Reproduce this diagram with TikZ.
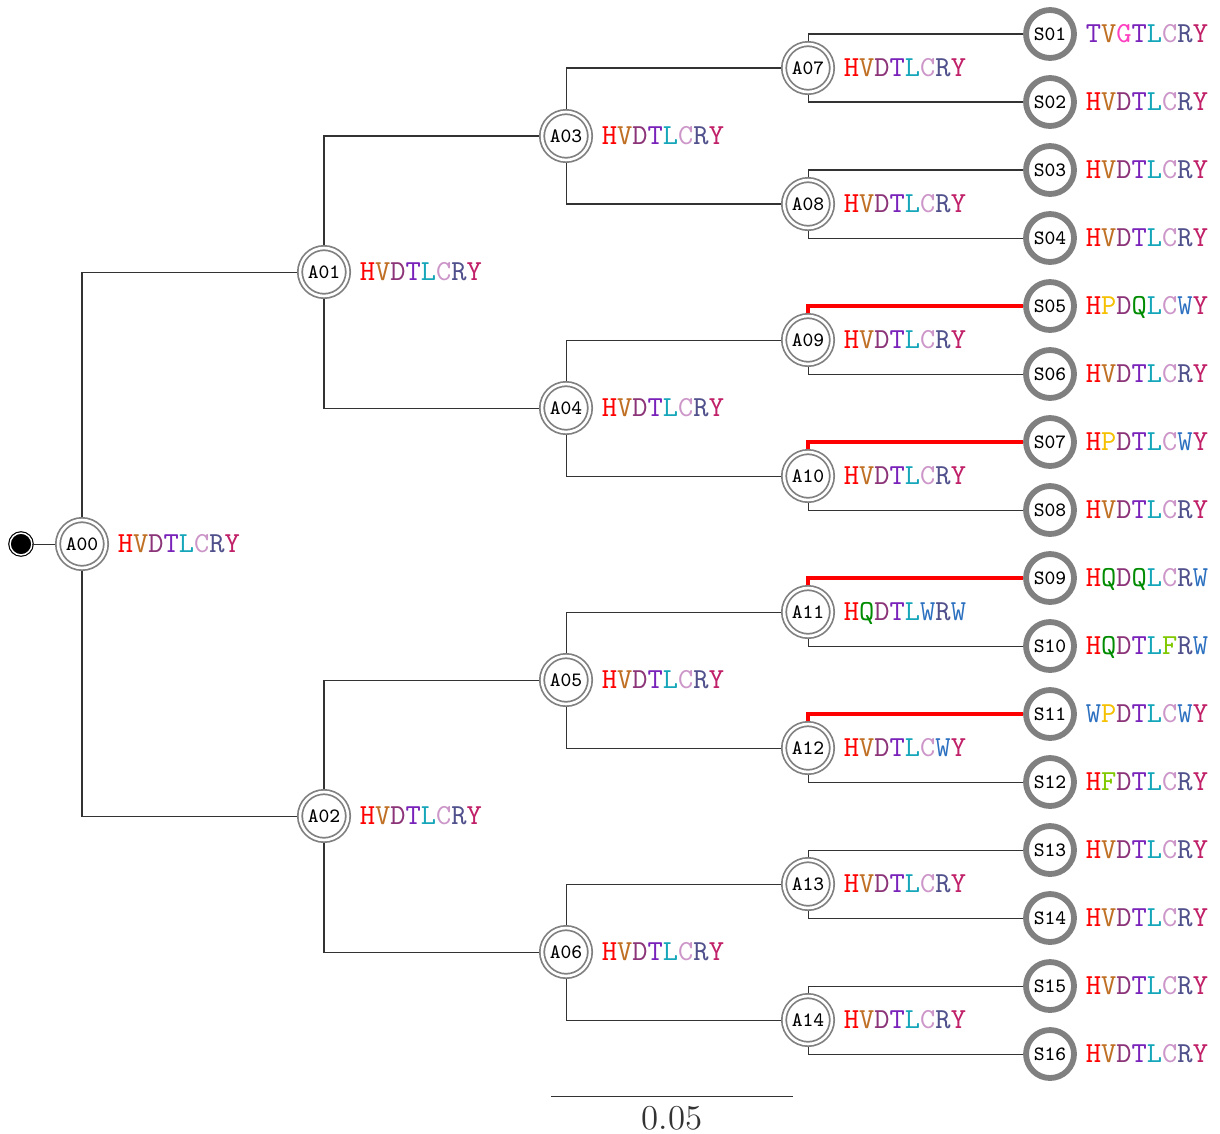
\documentclass[tikz,border=0pt]{standalone}
\usetikzlibrary{positioning}

% residue colours
\definecolor{aaH}{RGB}{255,0,0}
\definecolor{aaV}{RGB}{192,112,36}
\definecolor{aaD}{RGB}{140,52,120}
\definecolor{aaT}{RGB}{120,34,186}
\definecolor{aaL}{RGB}{22,166,186}
\definecolor{aaC}{RGB}{204,150,200}
\definecolor{aaR}{RGB}{80,80,140}
\definecolor{aaY}{RGB}{192,32,104}
\definecolor{aaG}{RGB}{255,64,192}
\definecolor{aaP}{RGB}{245,192,0}
\definecolor{aaQ}{RGB}{0,140,0}
\definecolor{aaW}{RGB}{44,112,192}
\definecolor{aaF}{RGB}{128,200,0}

% colour a sequence letter by letter
\def\colseq#1{\ifx#1\relax\else\textcolor{aa#1}{#1}\expandafter\colseq\fi}
\newcommand{\seqtxt}[1]{\edef\seqtmp{#1}\expandafter\colseq\seqtmp\relax}

\tikzset{
	rootdot/.style={circle,draw=black,double=white,double distance=0.5pt,line width=0.4pt,fill=black,minimum size=7.5pt,inner sep=0pt},
	anc/.style={circle,draw=gray,double=white,double distance=0.9pt,line width=0.6pt,fill=white,minimum size=16.5pt,inner sep=0pt,outer sep=1pt,font=\scriptsize\ttfamily},
	leaf/.style={circle,draw=gray,line width=2pt,fill=white,minimum size=16.5pt,inner sep=0pt,outer sep=1pt,font=\scriptsize\ttfamily},
	seq/.style={inner sep=0pt,font=\ttfamily,text height=6.1pt,text depth=0pt},
	br/.style={line width=0.35pt,black!80},
	mut/.style={line width=1.4pt,red},
}

\begin{document}
\begin{tikzpicture}[x=0.344pt,y=-0.344pt]
		\useasboundingbox (0,0) rectangle (1220,1133);
		
		% root and ancestral states
		\node[rootdot] (R) at (21,544) {};
		\node[anc] (A00) at (82,544) {A00};
		\node[anc] (A01) at (324,272) {A01};
		\node[anc] (A02) at (324,816) {A02};
		\node[anc] (A03) at (566,136) {A03};
		\node[anc] (A04) at (566,408) {A04};
		\node[anc] (A05) at (566,680) {A05};
		\node[anc] (A06) at (566,952) {A06};
		\node[anc] (A07) at (808,68) {A07};
		\node[anc] (A08) at (808,204) {A08};
		\node[anc] (A09) at (808,340) {A09};
		\node[anc] (A10) at (808,476) {A10};
		\node[anc] (A11) at (808,612) {A11};
		\node[anc] (A12) at (808,748) {A12};
		\node[anc] (A13) at (808,884) {A13};
		\node[anc] (A14) at (808,1020) {A14};
		
		\foreach \n/\s in {00/HVDTLCRY,01/HVDTLCRY,02/HVDTLCRY,03/HVDTLCRY,04/HVDTLCRY,
			05/HVDTLCRY,06/HVDTLCRY,07/HVDTLCRY,08/HVDTLCRY,09/HVDTLCRY,10/HVDTLCRY,
			11/HQDTLWRW,12/HVDTLCWY,13/HVDTLCRY,14/HVDTLCRY}
			\node[seq,right=2.9pt of A\n] (a\n) {\seqtxt{\s}};
		
		% sampled sequences
		\foreach \n/\s [count=\k from 0] in {01/TVGTLCRY,02/HVDTLCRY,03/HVDTLCRY,04/HVDTLCRY,
			05/HPDQLCWY,06/HVDTLCRY,07/HPDTLCWY,08/HVDTLCRY,09/HQDQLCRW,10/HQDTLFRW,
			11/WPDTLCWY,12/HFDTLCRY,13/HVDTLCRY,14/HVDTLCRY,15/HVDTLCRY,16/HVDTLCRY}{
			\node[leaf] (S\n) at (1050,{34+68*\k}) {S\n};
			\node[seq,right=2.9pt of S\n] (s\n) {\seqtxt{\s}};
		}
		
		% branches
		\draw[br] (R) -- (A00);
		\foreach \p/\c in {A00/A01,A00/A02,A01/A03,A01/A04,A02/A05,A02/A06,
			A03/A07,A03/A08,A04/A09,A04/A10,A05/A11,A05/A12,A06/A13,A06/A14,
			A07/S01,A07/S02,A08/S03,A08/S04,A09/S06,A10/S08,A11/S10,A12/S12,
			A13/S13,A13/S14,A14/S15,A14/S16}
			\draw[br] (\p) |- (\c);
		\foreach \p/\c in {A09/S05,A10/S07,A11/S09,A12/S11}
			\draw[mut] (\p) |- (\c);
		
		% scale bar
		\coordinate (sbL) at (551,1096);
		\coordinate (sbR) at (793,1096);
		\draw[br] (sbL) -- node[below,font=\large] (sbT) {0.05} (sbR);
\end{tikzpicture}
\end{document}
